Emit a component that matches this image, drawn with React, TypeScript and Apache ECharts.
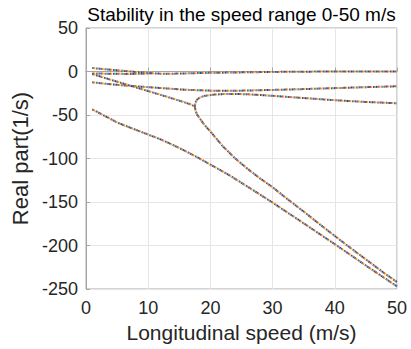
import React, { useEffect, useRef } from "react";
import * as echarts from "echarts";

// Branch that starts above zero, merges with branch B near 10.5 m/s and continues near zero
const speedA = [1, 3, 5, 7, 9, 10.5, 12, 14, 17, 20, 25, 30, 35, 40, 45, 50];
const realA = [4, 2.7, 1.4, 0.1, -1.1, -2, -2.5, -2.5, -2, -1.5, -1, -0.5, -0.2, 0, 0, 0];

// Branch starting just below zero that merges with A
const speedB = [1, 4, 7, 9, 10.5];
const realB = [-2.2, -2.6, -2.8, -2.6, -2];

// Slowly varying branch around -12 .. -22
const speedC = [1, 3, 5, 7, 10, 13, 16, 20, 25, 30, 35, 40, 45, 50];
const realC = [-12.4, -14, -15.3, -16.5, -18, -19.5, -21, -22, -22, -21.2, -20.2, -19.1, -18, -17];

// Diagonal branch down to the bifurcation point, then the fast (lower) branch
const speedD = [1, 4, 7, 10, 13, 15, 16.5, 17.5, 17.6, 17.9, 18.5, 19, 20, 21, 22, 23, 24, 25, 26, 28, 30, 32, 35, 38, 40, 42, 45, 48, 50];
const realD = [-2.8, -9.5, -16, -22.5, -29, -33.5, -37, -40, -45, -50, -56, -61, -69, -77.5, -86, -93, -100, -106, -112, -123, -133, -144.5, -161, -178, -189, -200, -216, -232, -242];

// Upper branch leaving the bifurcation point
const speedU = [17.5, 17.6, 17.9, 18.4, 19.2, 20.5, 22, 24, 26, 28, 30, 33, 36, 40, 45, 50];
const realU = [-40, -35.5, -32, -29.5, -27.8, -26.6, -26, -25.8, -26.2, -27, -28, -29.5, -31, -33, -35, -36.5];

// Lowest branch
const speedE = [1, 3, 5, 6, 8, 10, 12, 14, 16, 18, 20, 23, 26, 30, 35, 40, 45, 50];
const realE = [-43.5, -51, -58.5, -61.5, -67, -72.5, -78, -84.5, -91.5, -99, -107, -119, -132.5, -150.7, -174.5, -198.5, -223, -247];

const TITLE = "Stability in the speed range 0-50 m/s";
const X_NAME = "Longitudinal speed (m/s)";
const Y_NAME = "Real part(1/s)";

const palette = ["#0072BD", "#D95319", "#EDB120", "#7E2F8E", "#77AC30", "#4DBEEE", "#A2142F"];

const curves: [number[], number[]][] = [
  [speedA, realA],
  [speedB, realB],
  [speedC, realC],
  [speedD, realD],
  [speedU, realU],
  [speedE, realE],
];

const FONT = "'Liberation Sans', Arial, Helvetica, sans-serif";

export default function App() {
  const ref = useRef<HTMLDivElement>(null);
  useEffect(() => {
    document.body.style.margin = "0";
    if (!ref.current) return;
    const chart = echarts.init(ref.current, undefined, { renderer: "svg" });
    const series: any[] = [];
    curves.forEach(([xs, ys]) => {
      const data = xs.map((x, i) => [x, ys[i]]);
      palette.forEach((c, k) => {
        series.push({
          type: "line",
          data,
          symbol: "none",
          smooth: false,
          silent: true,
          lineStyle: { color: c, width: 2, type: [1.2, 7.2], dashOffset: -1.2 * k },
        });
      });
    });
    chart.setOption({
      animation: false,
      grid: {
        left: 86,
        right: 14,
        top: 28,
        bottom: 60,
        show: true,
        borderColor: "#a6a6a6",
        borderWidth: 1,
        backgroundColor: "#ffffff",
      },
      graphic: [
        {
          type: "text",
          x: 241.5,
          y: 14,
          style: {
            text: TITLE,
            fontSize: 19,
            fontFamily: FONT,
            fill: "#000000",
            textAlign: "center",
            textVerticalAlign: "middle",
          },
        },
      ],
      xAxis: {
        type: "value",
        min: 0,
        max: 50,
        interval: 10,
        name: X_NAME,
        nameLocation: "middle",
        nameGap: 30,
        nameTextStyle: { fontSize: 21, color: "#262626", fontFamily: FONT },
        axisLine: { show: true, lineStyle: { color: "#a6a6a6", width: 1 } },
        axisTick: { show: true, inside: true, length: 4, lineStyle: { color: "#a6a6a6" } },
        axisLabel: { fontSize: 18, color: "#262626", margin: 10, fontFamily: FONT },
        splitLine: { show: true, lineStyle: { color: "#e6e6e6", width: 1 } },
      },
      yAxis: {
        type: "value",
        min: -250,
        max: 50,
        interval: 50,
        name: Y_NAME,
        nameLocation: "middle",
        nameGap: 48,
        nameTextStyle: { fontSize: 22, color: "#262626", fontFamily: FONT },
        axisLine: { show: true, lineStyle: { color: "#a6a6a6", width: 1 } },
        axisTick: { show: true, inside: true, length: 4, lineStyle: { color: "#a6a6a6" } },
        axisLabel: { fontSize: 18, color: "#262626", margin: 8, fontFamily: FONT },
        splitLine: { show: true, lineStyle: { color: "#e6e6e6", width: 1 } },
      },
      series,
    });
    return () => chart.dispose();
  }, []);
  return <div ref={ref} style={{ width: 411, height: 349 }} />;
}
